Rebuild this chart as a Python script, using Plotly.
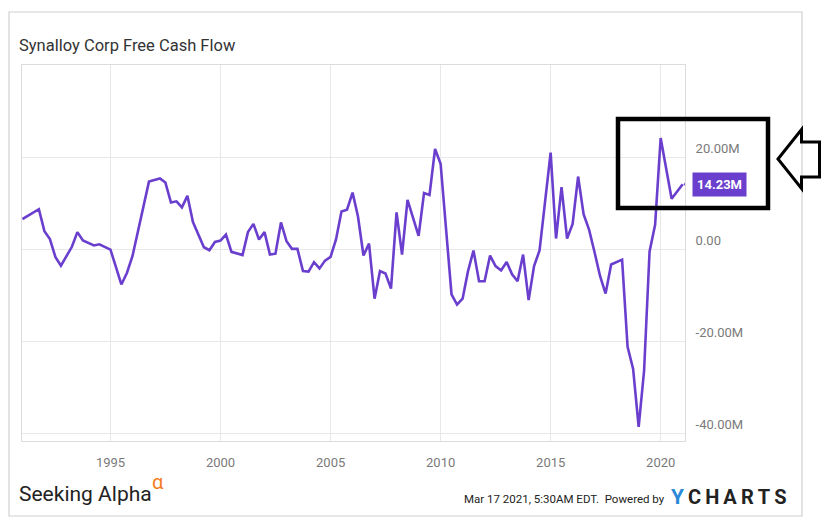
import plotly.graph_objects as go

# ---- data (USD millions, quarterly free cash flow) ----
dates = [
    "1990-12-31", "1991-09-30", "1991-12-31", "1992-03-31", "1992-06-30", "1992-09-30",
    "1993-03-31", "1993-06-30", "1993-09-30", "1994-03-31", "1994-06-30", "1994-09-30",
    "1994-12-31", "1995-06-30", "1995-09-30", "1995-12-31", "1996-09-30", "1997-03-31",
    "1997-06-30", "1997-09-30", "1997-12-31", "1998-03-31", "1998-06-30", "1998-09-30",
    "1999-03-31", "1999-06-30", "1999-09-30", "1999-12-31", "2000-03-31", "2000-06-30",
    "2000-09-30", "2000-12-31", "2001-03-31", "2001-06-30", "2001-09-30", "2001-12-31",
    "2002-03-31", "2002-06-30", "2002-09-30", "2002-12-31", "2003-03-31", "2003-06-30",
    "2003-09-30", "2003-12-31", "2004-03-31", "2004-06-30", "2004-09-30", "2004-12-31",
    "2005-03-31", "2005-06-30", "2005-09-30", "2005-12-31", "2006-03-31", "2006-06-30",
    "2006-09-30", "2006-12-31", "2007-03-31", "2007-06-30", "2007-09-30", "2007-12-31",
    "2008-03-31", "2008-06-30", "2008-12-31", "2009-03-31", "2009-06-30", "2009-09-30",
    "2009-12-31", "2010-06-30", "2010-09-30", "2010-12-31", "2011-03-31", "2011-06-30",
    "2011-09-30", "2011-12-31", "2012-03-31", "2012-06-30", "2012-09-30", "2012-12-31",
    "2013-03-31", "2013-06-30", "2013-09-30", "2013-12-31", "2014-03-31", "2014-06-30",
    "2014-12-31", "2015-03-31", "2015-06-30", "2015-09-30", "2015-12-31", "2016-03-31",
    "2016-06-30", "2016-09-30", "2016-12-31", "2017-03-31", "2017-06-30", "2017-09-30",
    "2018-03-31", "2018-06-30", "2018-09-30", "2018-12-31", "2019-03-31", "2019-06-30",
    "2019-09-30", "2019-12-31", "2020-06-30", "2020-12-31",
]
fcf = [
    6.65, 8.8, 4.0, 2.3, -1.6, -3.5,
    0.6, 3.8, 2.0, 0.9, 1.15, 0.6,
    0.0, -7.6, -5.1, -1.45, 14.8, 15.5,
    14.6, 10.25, 10.5, 9.2, 11.7, 6.0,
    0.5, -0.15, 1.65, 1.95, 3.25, -0.5,
    -0.9, -1.2, 3.8, 5.6, 2.2, 3.8,
    -1.1, -0.9, 5.9, 1.8, 0.15, 0.15,
    -4.7, -4.8, -2.75, -4.1, -2.4, -1.6,
    2.2, 8.3, 8.7, 12.4, 7.2, -1.3,
    1.3, -10.7, -4.7, -5.2, -8.5, 8.1,
    -1.1, 10.8, 3.0, 12.3, 11.9, 21.9,
    18.7, -9.75, -12.0, -10.7, -4.7, -0.2,
    -6.9, -6.9, -1.3, -3.6, -4.55, -2.7,
    -5.4, -6.9, -1.1, -11.0, -3.6, -0.2,
    21.1, 2.4, 13.6, 2.4, 5.6, 15.9,
    7.7, 4.3, -0.7, -5.8, -9.6, -3.25,
    -2.2, -21.2, -26.0, -38.6, -26.4, -0.4,
    5.4, 24.3, 11.05, 14.23,
]
year_ticks = ["1995", "2000", "2005", "2010", "2015", "2020"]
y_tickvals = [-40, -20, 0, 20]
y_ticktext = ["-40.00M", "-20.00M", "0.00", "20.00M"]
last_label = "14.23M"
title_text = "Synalloy Corp Free Cash Flow"

# ---- layout geometry (page pixels; page body adds an 8px offset) ----
OFF = 8
W, H = 830 - OFF, 532 - 2 * OFF
L, R, T, B = 22 - OFF, 685 - OFF, 65 - OFF, 441 - OFF
PURPLE = "#6b3fce"


def px(x):
    return (x - OFF - L) / (R - L)


def py(y):
    return (B - (y - OFF)) / (B - T)


fig = go.Figure()
fig.add_trace(go.Scatter(
    x=dates, y=fcf, mode="lines",
    line=dict(color=PURPLE, width=2.6),
    hoverinfo="skip", showlegend=False,
))

shapes = []
# outer frame
shapes.append(dict(type="rect", xref="paper", yref="paper",
                   x0=px(9), x1=px(802), y0=py(516), y1=py(12),
                   line=dict(color="#d0d0d0", width=1.2), layer="below"))
# tag triangle at last point
shapes.append(dict(type="path", xref="x", yref="y",
                   xsizemode="pixel", ysizemode="pixel",
                   xanchor=dates[-1], yanchor=fcf[-1],
                   path="M 1 0 L 9 11 L 9 -11 Z",
                   fillcolor=PURPLE, line=dict(width=0)))
# black highlight box
shapes.append(dict(type="rect", xref="paper", yref="paper",
                   x0=px(618), x1=px(768), y0=py(208), y1=py(119),
                   line=dict(color="black", width=4.5)))
# outline arrow pointing left
arrow_pts = [(778, 159), (801.5, 129.5), (801.5, 142), (819.5, 142),
             (819.5, 177), (801.5, 177), (801.5, 188.5)]
path = "M " + " L ".join(f"{px(a):.5f},{py(b):.5f}" for a, b in arrow_pts) + " Z"
shapes.append(dict(type="path", xref="paper", yref="paper", path=path,
                   line=dict(color="black", width=3), fillcolor="rgba(0,0,0,0)"))

annotations = []
annotations.append(dict(x=dates[-1], y=fcf[-1], xref="x", yref="y",
                        text=f"<b>{last_label}</b>", showarrow=False,
                        xanchor="left", yanchor="middle", xshift=9,
                        bgcolor=PURPLE, borderpad=4,
                        font=dict(family="Roboto", size=13, color="white")))
annotations.append(dict(x=px(17), y=py(494), xref="paper", yref="paper",
                        text="Seeking Alpha", showarrow=False,
                        xanchor="left", yanchor="middle",
                        font=dict(family="Roboto", size=21, color="#222222")))
annotations.append(dict(x=px(150), y=py(482), xref="paper", yref="paper",
                        text="α", showarrow=False,
                        xanchor="left", yanchor="middle",
                        font=dict(family="Roboto", size=20, color="#f47c20")))
annotations.append(dict(x=px(667), y=py(499), xref="paper", yref="paper",
                        text="Mar 17 2021, 5:30AM EDT.  Powered by", showarrow=False,
                        xanchor="right", yanchor="middle",
                        font=dict(family="Roboto", size=11.5, color="#222222")))
annotations.append(dict(x=px(669), y=py(497), xref="paper", yref="paper",
                        text="<b>Y</b>", showarrow=False,
                        xanchor="left", yanchor="middle",
                        font=dict(family="Roboto", size=21, color="#2b8ad8")))
annotations.append(dict(x=px(686), y=py(497), xref="paper", yref="paper",
                        text="<b>C\u2009H\u2009A\u2009R\u2009T\u2009S</b>", showarrow=False,
                        xanchor="left", yanchor="middle",
                        font=dict(family="Roboto", size=20, color="#222222")))

fig.update_layout(
    width=W, height=H,
    margin=dict(l=L, r=W - R, t=T, b=H - B, autoexpand=False),
    paper_bgcolor="white", plot_bgcolor="white",
    title=dict(text=title_text, xref="container", yref="container",
               x=(19 - OFF) / W, y=1 - (45 - OFF) / H, xanchor="left", yanchor="middle",
               font=dict(family="Roboto", size=16.5, color="#333333")),
    xaxis=dict(type="date", range=["1990-12-24", "2021-02-07"],
               tickvals=[f"{y}-01-01" for y in year_ticks], ticktext=year_ticks,
               showgrid=True, gridcolor="#e8e8e8", gridwidth=1,
               showline=True, mirror=True, linecolor="#dcdcdc", linewidth=1,
               ticks="", ticklabelstandoff=9, zeroline=False,
               tickfont=dict(family="Roboto", size=13, color="#7a7a7a")),
    yaxis=dict(side="right", range=[-41.7, 40.2],
               tickvals=y_tickvals, ticktext=y_ticktext,
               ticklabelposition="outside top",
               showgrid=True, gridcolor="#e8e8e8", gridwidth=1,
               showline=True, mirror=True, linecolor="#dcdcdc", linewidth=1,
               ticks="", ticklabelstandoff=7, zeroline=False,
               tickfont=dict(family="Roboto", size=13, color="#7a7a7a")),
    shapes=shapes, annotations=annotations,
)

fig.write_html("out.html")
